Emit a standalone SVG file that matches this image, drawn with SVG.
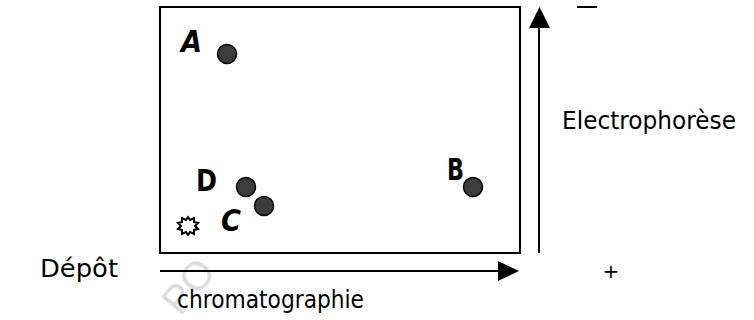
<svg xmlns="http://www.w3.org/2000/svg" width="754" height="320" viewBox="0 0 754 320">
<style>
.lbl{font-family:"DejaVu Sans","Liberation Sans",sans-serif;fill:#000;}
.spot{font-family:"DejaVu Sans","Liberation Sans",sans-serif;font-weight:bold;fill:#000;font-size:30px;}
.dot{fill:#3c3c3c;stroke:#000;stroke-width:1.5;}
.ln{stroke:#000;stroke-width:2;fill:none;}
</style>
<rect width="754" height="320" fill="#fff"/>
<text x="180" y="317" transform="rotate(-50 180 317)" font-family="Liberation Sans,sans-serif" font-size="40" fill="#dcdcdc">PO</text>
<g id="plate">
<rect x="160" y="7" width="360" height="246" fill="#fff" stroke="#000" stroke-width="2"/>
</g>
<g id="connectors">
<line class="ln" x1="539" y1="253" x2="539" y2="26"/>
<polygon points="529,28 550,28 539.5,7" fill="#000"/>
<line class="ln" x1="160" y1="271" x2="500" y2="271"/>
<polygon points="498,261 498,281 519,271" fill="#000"/>
</g>
<g id="A"><text class="spot" x="181" y="52" font-style="italic" textLength="21" lengthAdjust="spacingAndGlyphs">A</text><circle class="dot" cx="227" cy="54" r="9.5"/></g>
<g id="D"><text class="spot" x="196" y="191" textLength="21" lengthAdjust="spacingAndGlyphs">D</text><circle class="dot" cx="246" cy="187" r="9.5"/></g>
<g id="C"><text class="spot" x="221" y="231" font-style="italic" textLength="20" lengthAdjust="spacingAndGlyphs">C</text><circle class="dot" cx="264" cy="206" r="9.5"/></g>
<g id="B"><text class="spot" x="447" y="180" font-size="23" textLength="17" lengthAdjust="spacingAndGlyphs">B</text><circle class="dot" cx="473" cy="187" r="9.5"/></g>
<g id="depot-mark">
<polygon points="188,217 190,220 194,218 194,222 198,223 195,226 198,229 194,230 194,234 190,232 188,235 186,232 182,234 182,230 178,229 181,226 178,223 182,222 182,218 186,220" fill="#fff" stroke="#000" stroke-width="2"/>
</g>
<g id="labels">
<text class="lbl" x="562" y="129" font-size="24" textLength="174" lengthAdjust="spacingAndGlyphs">Electrophorèse</text>
<text class="lbl" x="40" y="277" font-size="25" textLength="78" lengthAdjust="spacingAndGlyphs">Dépôt</text>
<text class="lbl" x="177" y="308" font-size="24" textLength="187" lengthAdjust="spacingAndGlyphs">chromatographie</text>
<text class="lbl" x="611" y="278" font-size="20" text-anchor="middle">+</text>
<line class="ln" x1="577" y1="7" x2="597" y2="7"/>
</g>
</svg>
